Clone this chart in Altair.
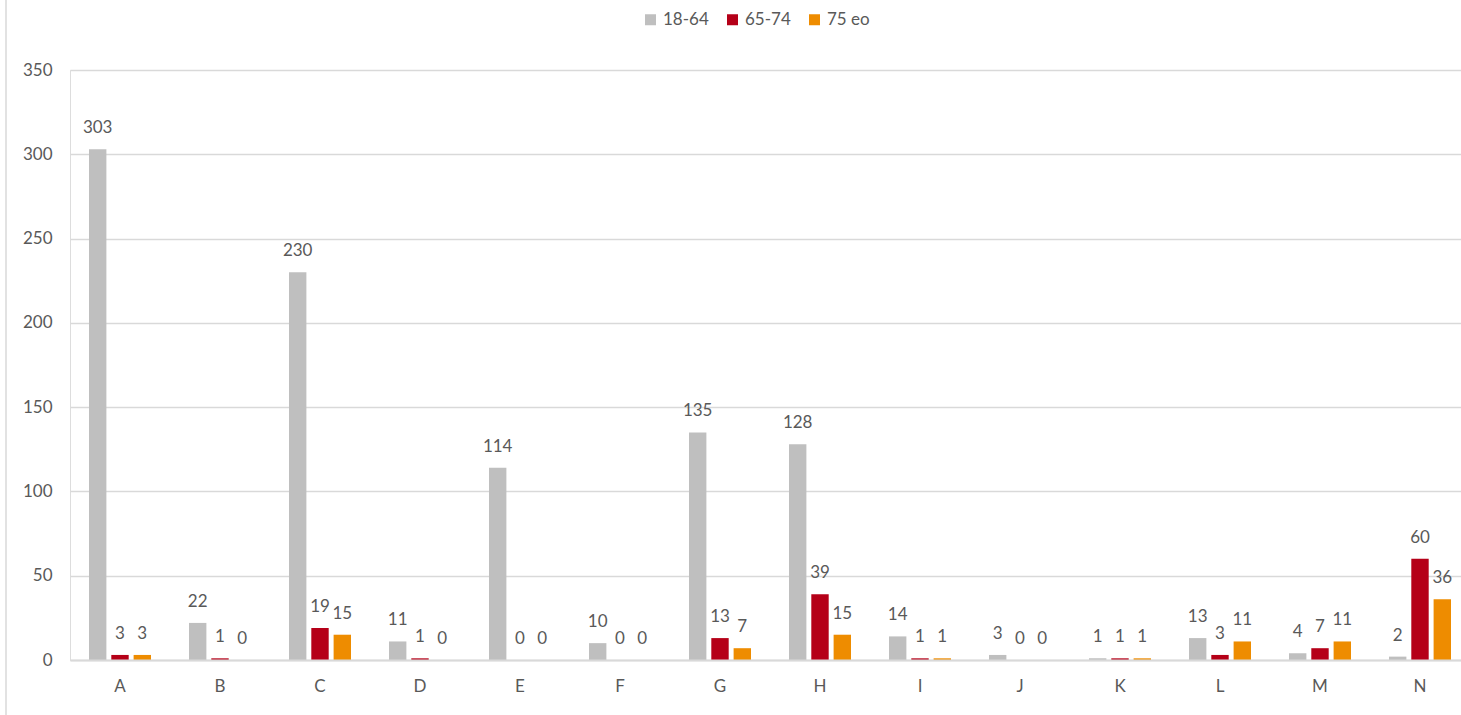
import altair as alt
import pandas as pd

# Counts per category and age group
categories = ["A", "B", "C", "D", "E", "F", "G", "H", "I", "J", "K", "L", "M", "N"]
groups = ["18-64", "65-74", "75 eo"]
age_18_64 = [303, 22, 230, 11, 114, 10, 135, 128, 14, 3, 1, 13, 4, 2]
age_65_74 = [3, 1, 19, 1, 0, 0, 13, 39, 1, 0, 1, 3, 7, 60]
age_75_eo = [3, 0, 15, 0, 0, 0, 7, 15, 1, 0, 1, 11, 11, 36]
colors = ["#BFBFBF", "#B50018", "#EE8C00"]

rows = []
for series_name, values in zip(groups, [age_18_64, age_65_74, age_75_eo]):
    for cat, v in zip(categories, values):
        rows.append({"cat": cat, "group": series_name, "value": v})
df = pd.DataFrame(rows)

FONT = "Lato"
FS = 17
TEXT = "#595959"
GRID = "#D9D9D9"

x_enc = alt.X(
    "cat:N",
    sort=categories,
    title=None,
    scale=alt.Scale(range=[0, 1400], paddingInner=0.38, paddingOuter=0.19),
    axis=alt.Axis(
        labelAngle=0, ticks=False, domainColor=GRID, domainWidth=2, zindex=1,
        labelFont=FONT, labelFontSize=FS, labelColor=TEXT, labelPadding=18,
        grid=False,
    ),
)
xoff_enc = alt.XOffset(
    "group:N", sort=groups, scale=alt.Scale(paddingInner=0.22, paddingOuter=0)
)
y_scale = alt.Scale(domain=[0, 350], nice=False)

bars = alt.Chart(df).mark_bar().encode(
    x=x_enc,
    xOffset=xoff_enc,
    y=alt.Y(
        "value:Q",
        scale=y_scale,
        title=None,
        axis=alt.Axis(
            values=[0, 50, 100, 150, 200, 250, 300, 350],
            domain=False, ticks=False, gridColor=GRID, gridWidth=1.5,
            labelFont=FONT, labelFontSize=FS, labelColor=TEXT, labelPadding=18,
        ),
    ),
    color=alt.Color(
        "group:N",
        sort=groups,
        scale=alt.Scale(domain=groups, range=colors),
        legend=alt.Legend(
            title=None, orient="none", direction="horizontal",
            legendX=572, legendY=-59, symbolType="square", symbolSize=121,
            symbolStrokeWidth=0, labelFont=FONT, labelFontSize=FS,
            labelColor=TEXT, labelOffset=4, columnPadding=15,
        ),
    ),
)

labels = alt.Chart(df).mark_text(
    baseline="alphabetic", dy=-16, font=FONT, fontSize=FS, color=TEXT
).encode(
    x=alt.X("cat:N", sort=categories),
    xOffset=alt.XOffset("group:N", sort=groups),
    y=alt.Y("value:Q", scale=y_scale),
    text=alt.Text("value:Q"),
)

# thin frame line along the left edge of the chart
frame = alt.Chart(pd.DataFrame({"k": [0]})).mark_rule(
    color=GRID, strokeWidth=1.5
).encode(x=alt.value(-64), y=alt.value(-70), y2=alt.value(645))

chart = (
    alt.layer(bars, labels, frame)
    .properties(
        width=1391,
        height=590,
        padding={"left": 70, "top": 70, "right": 0, "bottom": 55},
        autosize=alt.AutoSizeParams(type="none"),
    )
    .configure_view(stroke=None)
    .configure(background="white")
)

chart.save("out.html", embed_options={"renderer": "svg", "actions": False})
